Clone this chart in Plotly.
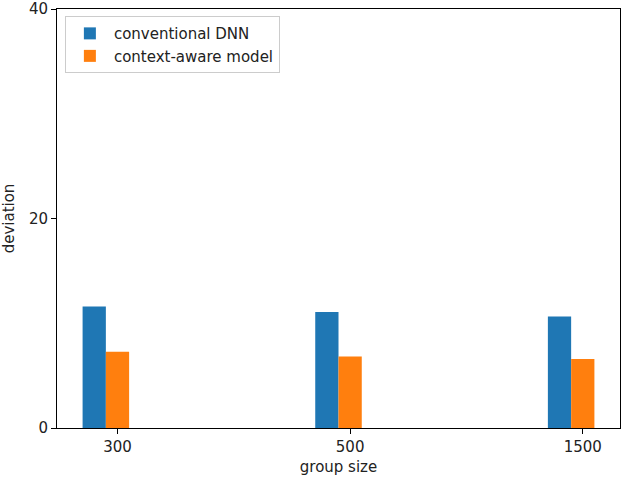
import plotly.graph_objects as go

group_sizes = ["300", "500", "1500"]
conventional_dnn = [11.6, 11.07, 10.65]
context_aware = [7.28, 6.83, 6.58]

positions = list(range(len(group_sizes)))

BAR_W = 0.1
FS = 15
font_family = "DejaVu Sans, Verdana, sans-serif"

fig = go.Figure()
fig.add_trace(go.Bar(
    x=positions, y=conventional_dnn, name="conventional DNN",
    width=BAR_W, offset=-1.5 * BAR_W,
    marker=dict(color="#1f77b4", line=dict(width=0)),
))
fig.add_trace(go.Bar(
    x=positions, y=context_aware, name="context-aware model",
    width=BAR_W, offset=-0.5 * BAR_W,
    marker=dict(color="#ff7f0e", line=dict(width=0)),
))

axis_common = dict(
    showline=True, mirror=True, linecolor="black", linewidth=1,
    ticks="outside", ticklen=5, tickwidth=1, tickcolor="black",
    showgrid=False, zeroline=False, ticklabeloverflow="allow",
    tickfont=dict(family=font_family, size=FS, color="#222222"),
)

fig.update_layout(
    width=625, height=480,
    margin=dict(l=57, r=5, t=9, b=52),
    paper_bgcolor="white", plot_bgcolor="white",
    barmode="overlay",
    font=dict(family=font_family, size=FS, color="#222222"),
    showlegend=True,
    legend=dict(
        x=0.014, y=0.983, xanchor="left", yanchor="top",
        bgcolor="rgba(255,255,255,0.8)", bordercolor="#cccccc", borderwidth=1,
        font=dict(family=font_family, size=FS, color="#222222"),
        tracegroupgap=0, itemwidth=38,
    ),
    xaxis=dict(
        range=[-0.26, 2.16], tickvals=positions, ticktext=group_sizes,
        title=dict(text="group size", standoff=6,
                   font=dict(family=font_family, size=FS, color="#222222")),
        automargin=False, **axis_common,
    ),
    yaxis=dict(
        range=[0, 40], tickvals=[0, 20, 40],
        title=dict(text="deviation", standoff=10,
                   font=dict(family=font_family, size=FS, color="#222222")),
        automargin=False, **axis_common,
    ),
)

fig.write_html(
    "out.html",
    config={"displayModeBar": False},
    post_script="document.body.style.margin='0px';",
)
